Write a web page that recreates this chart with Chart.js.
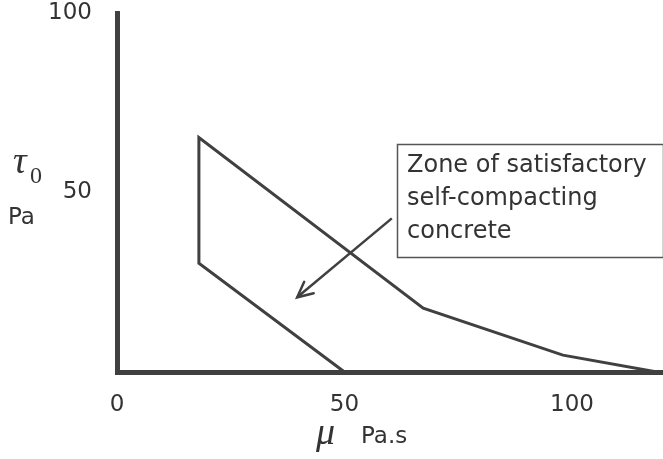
<!DOCTYPE html>
<html>
<head>
<meta charset="utf-8">
<script src="https://cdn.jsdelivr.net/npm/chart.js@4.4.0/dist/chart.umd.min.js"></script>
<style>
  html, body { margin: 0; padding: 0; background: #fff; }
  #wrap { width: 663px; height: 459px; }
</style>
</head>
<body>
<div id="wrap"><canvas id="zoneChart"></canvas></div>
<script>
// boundary of the SCC zone, traced in drawing order
var zoneMu = [50, 18, 18, 67.3, 98, 118.7];
var zoneTau = [0, 30.3, 65.3, 17.8, 4.7, 0];

// arrow pointing from the label into the zone (tail, tip)
var arrowMu = [60.4, 39.6];
var arrowTau = [42.8, 20.8];

var xTicks = [0, 50, 100];
var yTicks = [50, 100];

var zoneLabel = ['Zone of satisfactory', 'self-compacting', 'concrete'];

var ink = '#404040';
var textInk = '#333';

function toPoints(xs, ys) {
    return xs.map(function (x, i) { return { x: x, y: ys[i] }; });
}

var annotations = {
    id: 'annotations',
    afterDatasetsDraw: function (chart) {
        var ctx = chart.ctx;
        var xs = chart.scales.x, ys = chart.scales.y;

        // arrow head at the tip
        var tx = xs.getPixelForValue(arrowMu[1]), ty = ys.getPixelForValue(arrowTau[1]);
        var sx = xs.getPixelForValue(arrowMu[0]), sy = ys.getPixelForValue(arrowTau[0]);
        var ang = Math.atan2(sy - ty, sx - tx);
        ctx.save();
        ctx.strokeStyle = ink;
        ctx.lineWidth = 2.5;
        ctx.lineCap = 'round';
        ctx.beginPath();
        ctx.moveTo(tx + 17 * Math.cos(ang - 0.45), ty + 17 * Math.sin(ang - 0.45));
        ctx.lineTo(tx, ty);
        ctx.lineTo(tx + 17 * Math.cos(ang + 0.45), ty + 17 * Math.sin(ang + 0.45));
        ctx.stroke();

        // label box
        ctx.fillStyle = '#fff';
        ctx.fillRect(397, 144, 266, 114);
        ctx.strokeStyle = '#555';
        ctx.lineWidth = 1.5;
        ctx.strokeRect(397.5, 144.5, 266, 113);
        ctx.fillStyle = textInk;
        ctx.font = '24px "DejaVu Sans"';
        ctx.textBaseline = 'middle';
        ctx.textAlign = 'left';
        zoneLabel.forEach(function (line, i) {
            ctx.fillText(line, 407, 166 + i * 33);
        });

        // axis titles
        ctx.textBaseline = 'alphabetic';
        ctx.font = 'italic 38px "Liberation Serif"';
        ctx.fillText('\u03C4', 13, 173);
        ctx.font = '24px "Liberation Serif"';
        ctx.fillText('0', 30, 183);
        ctx.textBaseline = 'middle';
        ctx.font = '23px "DejaVu Sans"';
        ctx.fillText('Pa', 8, 218);

        ctx.textBaseline = 'alphabetic';
        ctx.font = 'italic 38px "Liberation Serif"';
        ctx.fillText('\u03BC', 316, 444);
        ctx.textBaseline = 'middle';
        ctx.font = '23px "DejaVu Sans"';
        ctx.fillText('Pa.s', 361, 437);
        ctx.restore();
    }
};

var ctx = document.getElementById('zoneChart');
var zoneChart = new Chart(ctx, {
    type: 'scatter',
    data: {
        datasets: [{
            label: 'Zone',
            data: toPoints(zoneMu, zoneTau),
            showLine: true,
            borderColor: ink,
            borderWidth: 3,
            pointRadius: 0,
            tension: 0,
            clip: false,
        }, {
            label: 'Arrow',
            data: toPoints(arrowMu, arrowTau),
            showLine: true,
            borderColor: ink,
            borderWidth: 2.5,
            pointRadius: 0,
            clip: false,
        }]
    },
    options: {
        responsive: true,
        maintainAspectRatio: false,
        animation: false,
        layout: {
            padding: { top: 13, right: 0, bottom: 0, left: 0 }
        },
        plugins: {
            legend: { display: false },
            tooltip: { enabled: false }
        },
        scales: {
            x: {
                type: 'linear',
                min: 0,
                max: 120,
                grid: { display: false, drawTicks: false },
                border: { display: true, color: ink, width: 5 },
                afterBuildTicks: function (scale) {
                    scale.ticks = xTicks.map(function (v) { return { value: v }; });
                },
                afterFit: function (scale) {
                    scale.height = 87;
                    scale.paddingLeft = 0;
                    scale.paddingRight = 0;
                },
                ticks: {
                    padding: 19,
                    color: textInk,
                    font: { family: 'DejaVu Sans', size: 23 }
                }
            },
            y: {
                type: 'linear',
                min: 0,
                max: 100,
                grid: { display: false, drawTicks: false },
                border: { display: true, color: ink, width: 5 },
                afterBuildTicks: function (scale) {
                    scale.ticks = yTicks.map(function (v) { return { value: v }; });
                },
                afterFit: function (scale) {
                    scale.width = 117;
                    scale.paddingTop = 0;
                    scale.paddingBottom = 0;
                },
                ticks: {
                    padding: 25,
                    color: textInk,
                    font: { family: 'DejaVu Sans', size: 23 }
                }
            }
        }
    },
    plugins: [annotations]
});
</script>
</body>
</html>
